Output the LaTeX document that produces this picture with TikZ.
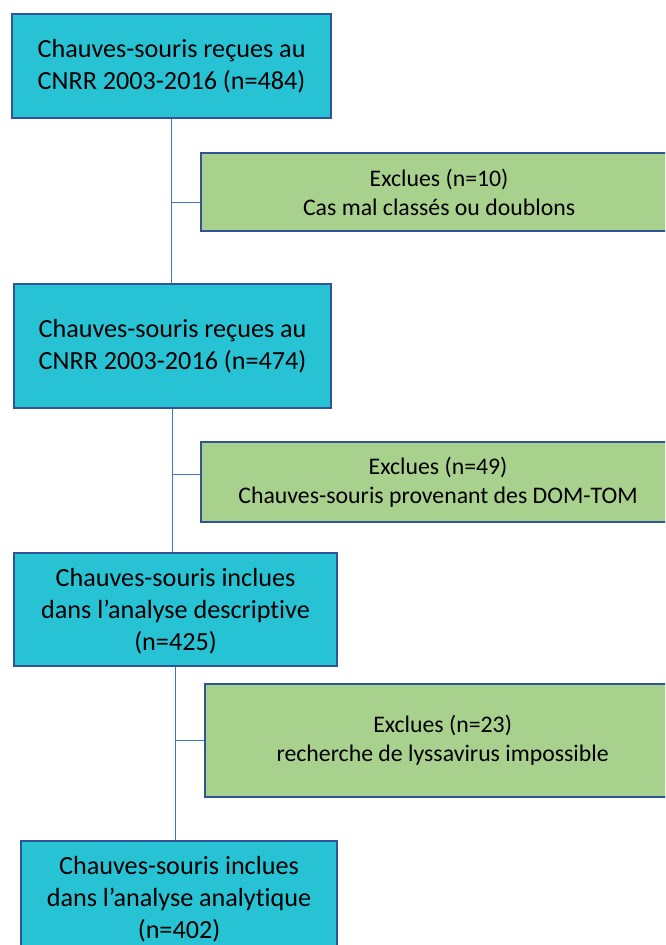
\documentclass[tikz,border=0pt]{standalone}
\usepackage{fontspec}
\setmainfont{Carlito}[Ligatures=NoCommon]
\usepackage{tikz}
\usetikzlibrary{positioning}
\definecolor{turq}{HTML}{27C3D5}
\definecolor{leaf}{HTML}{A9D18E}
\definecolor{rim}{HTML}{2F5597}
\definecolor{wire}{HTML}{4472C4}
\tikzset{stage/.style={draw=rim,fill=turq,line width=1.6pt,align=center,inner sep=1mm,font=\fontsize{19.7}{24}\selectfont},excl/.style={draw=rim,fill=leaf,line width=1.6pt,align=center,inner sep=1mm,font=\fontsize{17.9}{22}\selectfont},link/.style={draw=wire,line width=0.8pt}}

\begin{document}
\begin{tikzpicture}
\path[use as bounding box] (0,0) rectangle (175.95mm,-250.03mm);
\clip (0,0) rectangle (175.95mm,-250.03mm);
\node[stage,anchor=north west,minimum width=84.4mm,minimum height=27.52mm] (recues) at (2.91mm,-3.44mm) {Chauves-souris reçues au\\CNRR 2003-2016 (n=484)};
\node[stage,below=43.36mm of recues,xshift=0.26mm,minimum width=83.87mm,minimum height=32.81mm] (valides) {Chauves-souris reçues au\\CNRR 2003-2016 (n=474)};
\node[stage,below=37.8mm of valides,xshift=0.79mm,minimum width=85.46mm,minimum height=29.9mm,text depth=0pt] (descr) {Chauves-souris inclues\\dans l’analyse descriptive\\(n=425)};
\node[stage,below=45.74mm of descr,xshift=0.93mm,minimum width=83.61mm,minimum height=29.9mm,text depth=0pt] (analyt) {Chauves-souris inclues\\dans l’analyse analytique\\(n=402)};
\node[excl,below=8.7mm of recues.south,anchor=north west,xshift=7.54mm,minimum width=125.94mm,minimum height=20.64mm] (doublons) {Exclues (n=10)\\Cas mal classés ou doublons};
\node[excl,below=8.44mm of valides.south,anchor=north west,xshift=7.28mm,minimum width=125.4mm,minimum height=21.17mm] (domtom) {Exclues (n=49)\\Chauves-souris provenant des DOM-TOM};
\node[excl,below=4.2mm of descr.south,anchor=north west,xshift=7.54mm,minimum width=125.7mm,minimum height=29.9mm] (lyssa) {Exclues (n=23)\\recherche de lyssavirus impossible};
\draw[link] (recues.south) -- (recues.south |- valides.north);
\draw[link] ([yshift=-2.78mm]doublons.west) -| (recues.south);
\draw[link] (valides.south) -- (valides.south |- descr.north);
\draw[link] ([yshift=1.96mm]domtom.west) -| (valides.south);
\draw[link] (descr.south) -- (descr.south |- analyt.north);
\draw[link] (lyssa.west) -| (descr.south);
\end{tikzpicture}
\end{document}
